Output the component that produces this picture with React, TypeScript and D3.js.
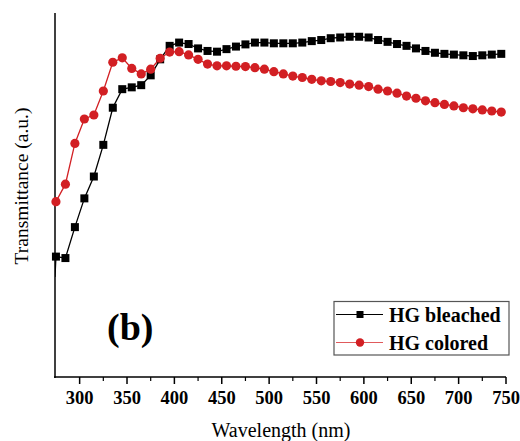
import React, { useEffect, useRef } from 'react';
import * as d3 from 'd3';

// wavelengths (nm) where symbols are drawn
const wavelengths = [
  275, 285, 295, 305, 315, 325, 335, 345, 355, 365, 375, 385, 395, 405, 415, 425,
  435, 445, 455, 465, 475, 485, 495, 505, 515, 525, 535, 545, 555, 565, 575, 585,
  595, 605, 615, 625, 635, 645, 655, 665, 675, 685, 695, 705, 715, 725, 735, 745,
];

const bleached = [
  32.8, 32.4, 40.9, 48.8, 54.8, 63.5, 73.7, 78.8, 79.3, 79.9, 82.6, 87.0, 90.7, 91.6, 91.2, 90.0,
  89.3, 89.1, 89.8, 90.5, 91.1, 91.6, 91.6, 91.4, 91.4, 91.4, 91.6, 92.0, 92.3, 92.8, 93.0, 93.2,
  93.2, 93.0, 92.3, 91.8, 91.2, 90.7, 90.0, 89.3, 88.8, 88.5, 88.3, 88.1, 87.9, 88.1, 88.3, 88.5,
];

const colored = [
  47.9, 52.7, 63.9, 70.6, 71.7, 78.3, 86.2, 87.4, 84.5, 83.0, 84.3, 87.3, 89.0, 89.1, 88.2, 87.0,
  85.7, 85.2, 85.2, 85.1, 85.0, 84.7, 84.3, 83.6, 83.0, 82.4, 82.0, 81.5, 81.1, 80.9, 80.6, 80.2,
  79.9, 79.5, 78.8, 78.3, 77.7, 76.9, 76.3, 75.6, 75.1, 74.6, 74.2, 73.7, 73.4, 73.1, 72.8, 72.5,
];

// first measured point of each curve (line only, sits on the axis)
const startWavelength = 274;
const bleachedStart = 27.2;
const coloredStart = 46.5;

const xTicks = [300, 350, 400, 450, 500, 550, 600, 650, 700, 750];
const minorTicks = [325, 375, 425, 475, 525, 575, 625, 675, 725];

const seriesNames = ['HG bleached', 'HG colored'];

const App = () => {
  const svgRef = useRef<SVGSVGElement>(null);

  useEffect(() => {
    const width = 520;
    const height = 441;
    const left = 55;
    const right = 506;
    const top = 13;
    const bottom = 377;

    const svg = d3.select(svgRef.current);
    svg.selectAll('*').remove();
    svg.attr('width', width).attr('height', height);

    const x = d3.scaleLinear().domain([startWavelength, 750]).range([left, right]);
    const y = d3.scaleLinear().domain([0, 100]).range([bottom - 1, top - 1]);

    svg.append('defs').append('clipPath').attr('id', 'plot-clip')
      .append('rect').attr('x', left).attr('y', 0).attr('width', right - left + 10).attr('height', bottom);

    const font = '"Liberation Serif", "Times New Roman", serif';

    // x axis
    const xAxis = svg.append('g').attr('transform', `translate(0,${bottom})`);
    xAxis.append('line').attr('x1', left - 1).attr('x2', right).attr('stroke', '#000').attr('stroke-width', 1.5);
    xAxis.selectAll('.major').data(xTicks).enter().append('line')
      .attr('x1', d => x(d)).attr('x2', d => x(d)).attr('y1', 0).attr('y2', 7)
      .attr('stroke', '#000').attr('stroke-width', 1.5);
    xAxis.selectAll('.minor').data(minorTicks).enter().append('line')
      .attr('x1', d => x(d)).attr('x2', d => x(d)).attr('y1', 0).attr('y2', 4)
      .attr('stroke', '#000').attr('stroke-width', 1.2);
    xAxis.selectAll('text').data(xTicks).enter().append('text')
      .attr('x', d => x(d)).attr('y', 27)
      .attr('text-anchor', 'middle')
      .style('font-family', font).style('font-weight', 'bold').style('font-size', '18.5px')
      .text(d => d);

    // y axis
    svg.append('line').attr('x1', left).attr('x2', left).attr('y1', top).attr('y2', bottom + 1)
      .attr('stroke', '#000').attr('stroke-width', 1.5);

    // titles
    svg.append('text').attr('x', 281).attr('y', 437)
      .attr('text-anchor', 'middle')
      .style('font-family', font).style('font-size', '20px')
      .text('Wavelength (nm)');
    svg.append('text').attr('transform', 'translate(28,186) rotate(-90)')
      .attr('text-anchor', 'middle')
      .style('font-family', font).style('font-size', '19.5px')
      .text('Transmittance (a.u.)');

    const line = d3.line<[number, number]>().x(d => x(d[0])).y(d => y(d[1]));

    const series = [
      { values: bleached, start: bleachedStart, color: '#000', shape: 'square' },
      { values: colored, start: coloredStart, color: '#d21f23', shape: 'circle' },
    ];

    series.forEach(s => {
      const pts: [number, number][] = [[startWavelength, s.start], ...wavelengths.map((w, i) => [w, s.values[i]] as [number, number])];
      svg.append('path').datum(pts)
        .attr('clip-path', 'url(#plot-clip)')
        .attr('d', line).attr('fill', 'none').attr('stroke', s.color).attr('stroke-width', 1.3);
      const g = svg.append('g');
      if (s.shape === 'square') {
        g.selectAll('rect').data(wavelengths).enter().append('rect')
          .attr('x', (d) => x(d) - 4).attr('y', (d, i) => y(s.values[i]) - 4)
          .attr('width', 8).attr('height', 8).attr('fill', s.color);
      } else {
        g.selectAll('circle').data(wavelengths).enter().append('circle')
          .attr('cx', d => x(d)).attr('cy', (d, i) => y(s.values[i]))
          .attr('r', 4.6).attr('fill', s.color);
      }
    });

    // panel label
    svg.append('text').attr('x', 107).attr('y', 340)
      .style('font-family', font).style('font-weight', 'bold').style('font-size', '38px')
      .text('(b)');

    // legend
    const legend = svg.append('g');
    legend.append('rect').attr('x', 334).attr('y', 301.5).attr('width', 175).attr('height', 53.5)
      .attr('fill', '#fff').attr('stroke', '#555').attr('stroke-width', 1.2);
    seriesNames.forEach((name, i) => {
      const ly = 314.5 + i * 28;
      const s = series[i];
      legend.append('line').attr('x1', 336).attr('x2', 383).attr('y1', ly).attr('y2', ly)
        .attr('stroke', i === 0 ? '#000' : '#e05a5c').attr('stroke-width', 1.2);
      if (s.shape === 'square') {
        legend.append('rect').attr('x', 356.5).attr('y', ly - 3.5).attr('width', 7).attr('height', 7).attr('fill', s.color);
      } else {
        legend.append('circle').attr('cx', 360).attr('cy', ly).attr('r', 4.2).attr('fill', s.color);
      }
      legend.append('text').attr('x', 389).attr('y', ly + 7)
        .style('font-family', font).style('font-weight', 'bold').style('font-size', '20px')
        .text(name);
    });
  }, []);

  return <svg ref={svgRef} style={{ position: 'absolute', left: 0, top: 0 }}></svg>;
};

export default App;
